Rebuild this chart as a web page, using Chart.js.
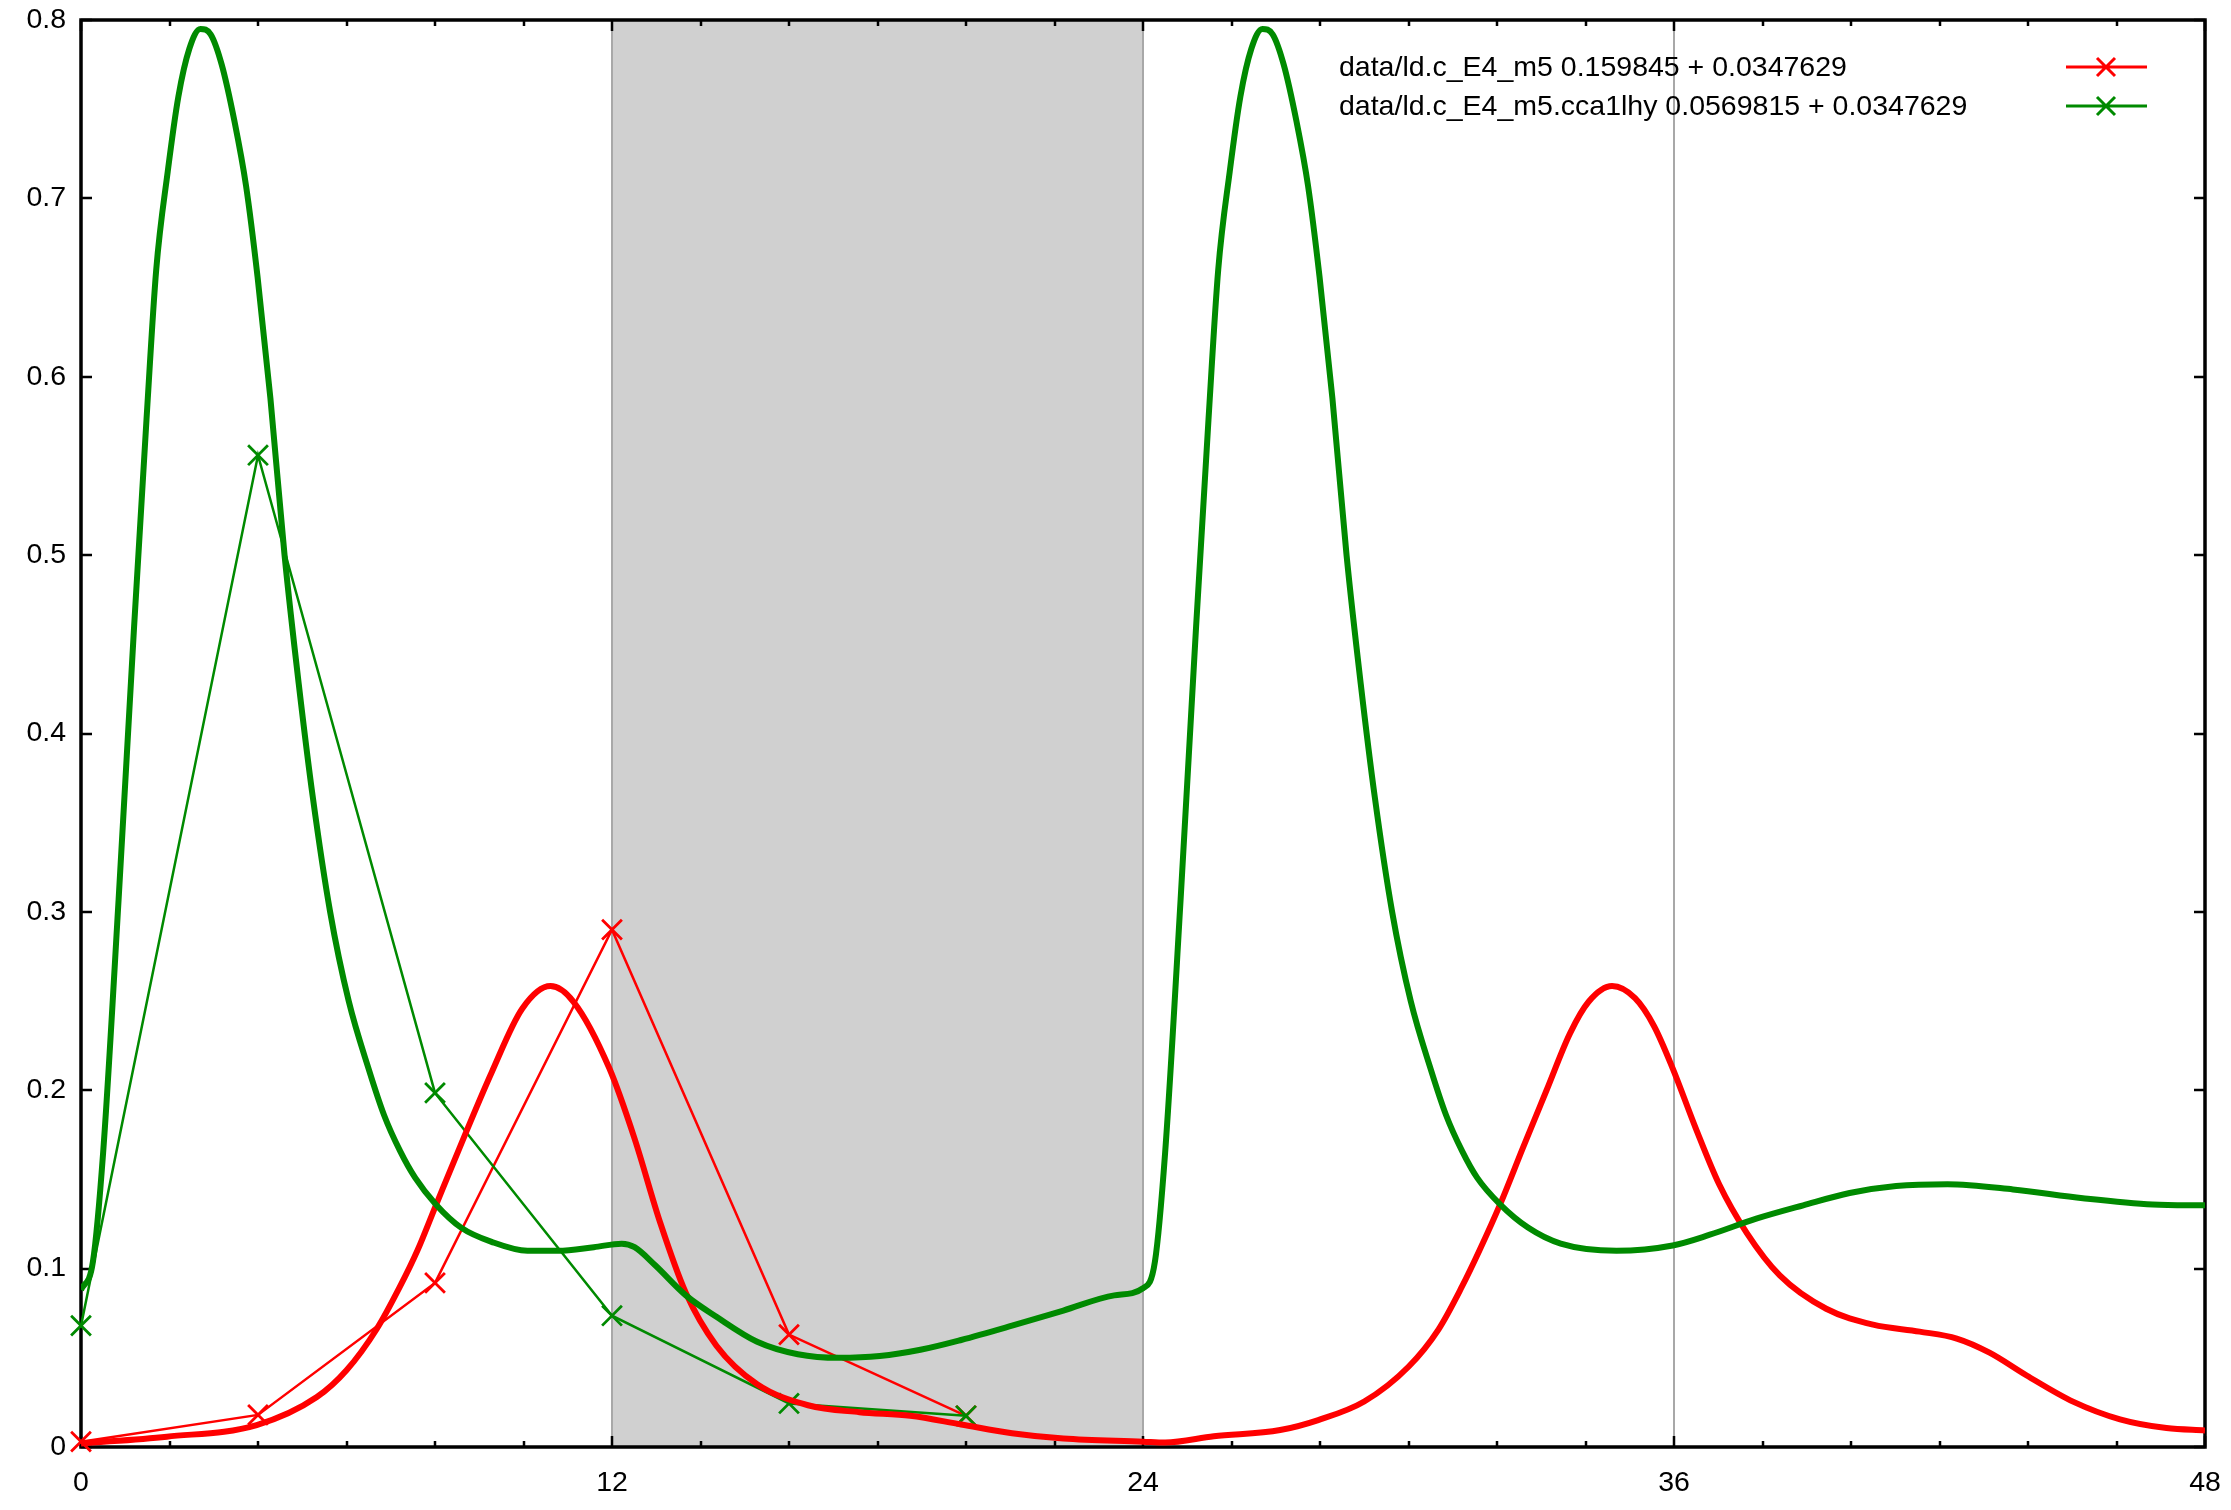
<!DOCTYPE html>
<html><head><meta charset="utf-8">
<script src="https://cdn.jsdelivr.net/npm/chart.js@4/dist/chart.umd.min.js"></script>
<style>html,body{margin:0;padding:0;background:#fff;overflow:hidden}#wrap{width:2231px;height:1510px;position:relative}</style>
</head><body><div id="wrap"><canvas id="c" width="2231" height="1510"></canvas></div>
<script>
// ---- data ----
const measuredHours = [0, 4, 8, 12, 16, 20];
const redMeasured = [0.003, 0.018, 0.092, 0.29, 0.063, 0.0175];
const greenMeasured = [0.068, 0.556, 0.1985, 0.0736, 0.0244, 0.0175];

const redCurveHours = [0, 1.94, 3.97, 5.33, 6.0, 6.68, 7.21, 7.6, 8.02, 8.71, 9.28, 9.97, 10.61, 11.13, 11.94, 12.51, 13.09, 13.67, 14.36, 15.28, 16.43, 17.59, 18.74, 19.89, 21.04, 22.2, 24.0, 24.5, 25.6, 27.1, 27.96, 29.0, 30.0, 30.68, 31.21, 31.6, 32.07, 32.59, 33.12, 33.65, 34.07, 34.6, 35.12, 35.55, 35.97, 36.49, 37.02, 37.65, 38.39, 39.44, 40.5, 41.55, 42.39, 43.13, 43.97, 45.03, 46.08, 47.13, 48];
const redCurveValues = [0.002, 0.0058, 0.0123, 0.028, 0.043, 0.066, 0.09, 0.11, 0.1355, 0.177, 0.21, 0.2457, 0.2584, 0.2496, 0.2123, 0.1729, 0.1257, 0.0863, 0.0568, 0.0352, 0.0234, 0.0195, 0.0175, 0.0126, 0.0077, 0.0047, 0.003, 0.0025, 0.006, 0.0095, 0.0151, 0.0255, 0.045, 0.066, 0.09, 0.11, 0.136, 0.168, 0.2, 0.2319, 0.2496, 0.2584, 0.2516, 0.2359, 0.2123, 0.1788, 0.1473, 0.1198, 0.0962, 0.0775, 0.0686, 0.0647, 0.0608, 0.0529, 0.0401, 0.0253, 0.0155, 0.0106, 0.0093];

const greenCurveHours = [0, 0.27, 0.5, 0.85, 1.2, 1.48, 1.7, 1.96, 2.2, 2.45, 2.7, 2.93, 3.18, 3.47, 3.73, 3.99, 4.28, 4.6, 4.92, 5.24, 5.63, 6.05, 6.5, 6.85, 7.21, 7.55, 8.02, 8.59, 9.28, 10.09, 10.78, 11.59, 12.22, 12.51, 12.97, 13.67, 14.36, 15.28, 16.2, 17.13, 18.05, 18.97, 19.89, 21.04, 22.2, 23.35, 24.0, 24.27, 24.5, 24.85, 25.2, 25.48, 25.7, 25.96, 26.2, 26.45, 26.7, 26.93, 27.18, 27.47, 27.73, 27.99, 28.28, 28.6, 28.92, 29.24, 29.63, 30.05, 30.5, 30.85, 31.21, 31.55, 32.07, 32.7, 33.44, 34.7, 35.97, 36.81, 37.86, 38.92, 39.97, 41.02, 42.18, 43.66, 45.24, 46.82, 48];
const greenCurveValues = [0.088, 0.104, 0.165, 0.307, 0.46, 0.576, 0.66, 0.715, 0.757, 0.784, 0.795, 0.792, 0.775, 0.743, 0.707, 0.656, 0.588, 0.5, 0.428, 0.364, 0.3, 0.25, 0.212, 0.186, 0.166, 0.151, 0.136, 0.123, 0.115, 0.11, 0.11, 0.112, 0.114, 0.112, 0.102, 0.085, 0.073, 0.059, 0.052, 0.05, 0.051, 0.0545, 0.06, 0.068, 0.0765, 0.085, 0.089, 0.104, 0.165, 0.307, 0.46, 0.576, 0.66, 0.715, 0.757, 0.784, 0.795, 0.792, 0.775, 0.743, 0.707, 0.656, 0.588, 0.5, 0.428, 0.364, 0.3, 0.25, 0.212, 0.186, 0.166, 0.151, 0.136, 0.123, 0.114, 0.11, 0.113, 0.119, 0.128, 0.1355, 0.1424, 0.1463, 0.1473, 0.1444, 0.1395, 0.136, 0.1355];

const legendLabels = ['data/ld.c_E4_m5 0.159845 + 0.0347629', 'data/ld.c_E4_m5.cca1lhy 0.0569815 + 0.0347629'];
const xTickValues = [0, 12, 24, 36, 48];
const xTickLabels = ['0', '12', '24', '36', '48'];
const yTickLabels = ['0', '0.1', '0.2', '0.3', '0.4', '0.5', '0.6', '0.7', '0.8'];
const gridHours = [12, 24, 36];
const shadeHours = [12, 24];

// ---- styling ----
const RED = '#ff0000', GREEN = '#008a00';
const FONT = '"Liberation Sans", Arial, sans-serif';
const FONT_SIZE = 28.5;
const pts = (xs, ys) => xs.map((x, i) => ({x: x, y: ys[i]}));

const shadePlugin = {
  id: 'shade',
  beforeDraw(chart) {
    const {ctx, chartArea: a, scales: {x}} = chart;
    ctx.save();
    ctx.fillStyle = '#ffffff';
    ctx.fillRect(0, 0, chart.width, chart.height);
    const x0 = x.getPixelForValue(shadeHours[0]), x1 = x.getPixelForValue(shadeHours[1]);
    ctx.fillStyle = '#d0d0d0';
    ctx.fillRect(x0, a.top, x1 - x0, a.bottom - a.top);
    ctx.restore();
  }
};

const framePlugin = {
  id: 'frame',
  beforeDatasetsDraw(chart) {
    const {ctx, chartArea: a, scales: {x, y}} = chart;
    ctx.save();
    ctx.strokeStyle = '#000';
    ctx.lineWidth = 2.5;
    ctx.beginPath();
    for (let h = x.min; h <= x.max; h += 2) {
      const px = Math.round(x.getPixelForValue(h));
      const len = (h % 12 === 0) ? 11 : 6;
      ctx.moveTo(px, a.bottom); ctx.lineTo(px, a.bottom - len);
      ctx.moveTo(px, a.top); ctx.lineTo(px, a.top + len);
    }
    for (let i = 0; i < yTickLabels.length; i++) {
      const py = Math.round(y.getPixelForValue(i / 10));
      ctx.moveTo(a.left, py); ctx.lineTo(a.left + 11, py);
      ctx.moveTo(a.right, py); ctx.lineTo(a.right - 11, py);
    }
    ctx.stroke();
    ctx.lineWidth = 3.5;
    ctx.strokeRect(a.left, a.top, a.right - a.left, a.bottom - a.top);
    ctx.restore();
  }
};

const legendPlugin = {
  id: 'gpLegend',
  afterDraw(chart) {
    const {ctx} = chart;
    const rows = [67, 106];
    ctx.save();
    ctx.font = FONT_SIZE + 'px ' + FONT;
    ctx.textBaseline = 'middle';
    ctx.textAlign = 'left';
    [RED, GREEN].forEach((col, i) => {
      const yy = rows[i];
      ctx.fillStyle = '#000';
      ctx.fillText(legendLabels[i], 1339, yy + 1);
      ctx.strokeStyle = col;
      ctx.lineWidth = 3;
      ctx.beginPath();
      ctx.moveTo(2066, yy); ctx.lineTo(2147, yy);
      ctx.moveTo(2106 - 9, yy - 9); ctx.lineTo(2106 + 9, yy + 9);
      ctx.moveTo(2106 - 9, yy + 9); ctx.lineTo(2106 + 9, yy - 9);
      ctx.stroke();
    });
    ctx.restore();
  }
};

const zeroPad = (s) => { s.paddingTop = 0; s.paddingBottom = 0; s.paddingLeft = 0; s.paddingRight = 0; };

new Chart(document.getElementById('c'), {
  type: 'line',
  data: {
    datasets: [
      {label: 'green fit', data: pts(greenCurveHours, greenCurveValues), borderColor: GREEN, borderWidth: 6, pointRadius: 0, cubicInterpolationMode: 'monotone', fill: false},
      {label: 'red fit', data: pts(redCurveHours, redCurveValues), borderColor: RED, borderWidth: 6, pointRadius: 0, cubicInterpolationMode: 'monotone', fill: false},
      {label: legendLabels[1], data: pts(measuredHours, greenMeasured), borderColor: GREEN, borderWidth: 2.5, pointStyle: 'crossRot', pointRadius: 14, pointBorderWidth: 2.8, pointBorderColor: GREEN, tension: 0, clip: false},
      {label: legendLabels[0], data: pts(measuredHours, redMeasured), borderColor: RED, borderWidth: 2.5, pointStyle: 'crossRot', pointRadius: 14, pointBorderWidth: 2.8, pointBorderColor: RED, tension: 0, clip: false}
    ]
  },
  options: {
    responsive: false,
    animation: false,
    events: [],
    layout: {padding: {top: 20, right: 26, left: 0, bottom: 0}},
    plugins: {legend: {display: false}, tooltip: {enabled: false}},
    scales: {
      x: {
        type: 'linear', min: 0, max: 48,
        afterFit(s) { s.height = 63; zeroPad(s); },
        afterBuildTicks(s) { s.ticks = xTickValues.map(v => ({value: v})); },
        ticks: {
          callback: (v) => xTickLabels[xTickValues.indexOf(v)],
          color: '#000', font: {family: FONT, size: FONT_SIZE}, padding: 19, maxRotation: 0, autoSkip: false
        },
        grid: {
          drawTicks: false,
          color: (c) => (c.tick && gridHours.includes(c.tick.value)) ? '#a8a8a8' : 'rgba(0,0,0,0)',
          lineWidth: 2
        },
        border: {display: false}
      },
      y: {
        type: 'linear', min: 0, max: 0.8,
        afterFit(s) { s.width = 81; zeroPad(s); },
        afterBuildTicks(s) { s.ticks = yTickLabels.map((t, i) => ({value: i / 10})); },
        ticks: {
          callback: (v, i) => yTickLabels[i],
          color: '#000', font: {family: FONT, size: FONT_SIZE}, padding: 15
        },
        grid: {display: false, drawTicks: false},
        border: {display: false}
      }
    }
  },
  plugins: [shadePlugin, framePlugin, legendPlugin]
});
</script>
</body></html>
